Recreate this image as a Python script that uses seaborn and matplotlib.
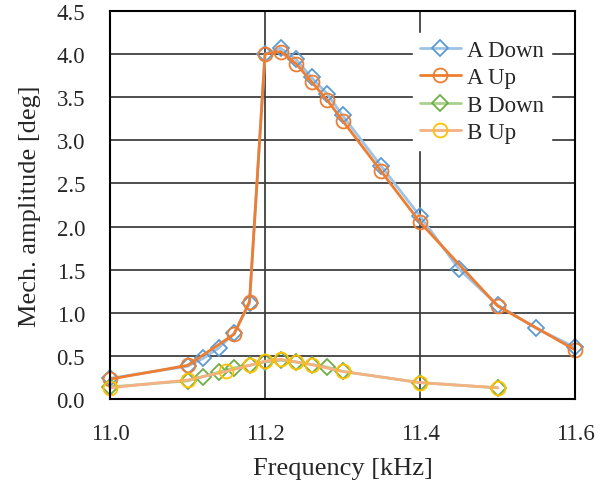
import matplotlib
matplotlib.use("Agg")
import matplotlib.pyplot as plt
import pandas as pd
import seaborn as sns

# frequency [kHz] / amplitude [deg] per series
a_down_freq = [11.0, 11.1, 11.12, 11.14, 11.16, 11.18, 11.2, 11.22, 11.24, 11.26, 11.28, 11.3, 11.35, 11.4, 11.45, 11.5, 11.55, 11.6]
a_down_amp = [0.24, 0.38, 0.47, 0.59, 0.76, 1.11, 4.0, 4.07, 3.94, 3.73, 3.54, 3.29, 2.70, 2.12, 1.51, 1.09, 0.82, 0.60]

a_up_freq = [11.0, 11.1, 11.16, 11.18, 11.2, 11.22, 11.24, 11.26, 11.28, 11.3, 11.35, 11.4, 11.5, 11.6]
a_up_amp = [0.23, 0.39, 0.75, 1.13, 4.0, 4.03, 3.89, 3.68, 3.47, 3.23, 2.64, 2.05, 1.08, 0.57]

b_down_freq = [11.0, 11.1, 11.12, 11.14, 11.16, 11.18, 11.2, 11.22, 11.24, 11.26, 11.28, 11.3, 11.4, 11.5]
b_down_amp = [0.14, 0.21, 0.26, 0.31, 0.36, 0.39, 0.43, 0.45, 0.43, 0.40, 0.37, 0.32, 0.19, 0.13]

b_up_freq = [11.0, 11.1, 11.15, 11.18, 11.2, 11.22, 11.24, 11.26, 11.3, 11.4, 11.5]
b_up_amp = [0.13, 0.22, 0.32, 0.39, 0.44, 0.46, 0.43, 0.40, 0.32, 0.19, 0.13]

series = [
    ("A Down", a_down_freq, a_down_amp, "#9DC3E6", "#5B9BD5", "D"),
    ("A Up", a_up_freq, a_up_amp, "#ED7D31", "#ED7D31", "o"),
    ("B Down", b_down_freq, b_down_amp, "#A9D18E", "#70AD47", "D"),
    ("B Up", b_up_freq, b_up_amp, "#F4B183", "#FFC000", "o"),
]

sns.set_style("white")
plt.rcParams["font.family"] = ["Liberation Serif", "DejaVu Serif"]

fig = plt.figure(figsize=(6.05, 4.85), dpi=100)
ax = fig.add_axes([110 / 605, 85 / 485, 465 / 605, 388 / 485])

for name, freq, amp, line_col, mark_col, marker in series:
    df = pd.DataFrame({"freq": freq, "amp": amp})
    sns.lineplot(
        data=df, x="freq", y="amp", ax=ax, color=line_col, linewidth=2,
        marker=marker, markersize=10 if marker == "o" else 8.5,
        markerfacecolor="none", markeredgecolor=mark_col, markeredgewidth=1.3,
        label=name, clip_on=False,
    )

ax.set_xlim(11.0, 11.6)
ax.set_ylim(0, 4.5)
ax.set_xticks([11.0, 11.2, 11.4, 11.6])
ax.set_yticks([i * 0.5 for i in range(10)])
ax.set_xticklabels(["11.0", "11.2", "11.4", "11.6"])
ax.set_yticklabels([f"{i * 0.5:.1f}" for i in range(10)])
ax.tick_params(length=0, labelsize=16.5)
ax.tick_params(axis="x", pad=17)
ax.tick_params(axis="y", pad=18)
ax.grid(True, color="#404040", linewidth=1.3)
ax.set_axisbelow(True)
for sp in ax.spines.values():
    sp.set_color("black")
    sp.set_linewidth(1.5)

ax.set_xlabel("Frequency [kHz]", fontsize=19, labelpad=10)
ax.set_ylabel("Mech. amplitude [deg]", fontsize=19, labelpad=11)

leg = ax.legend(loc="upper right", bbox_to_anchor=(0.972, 0.972), fontsize=16.5,
                frameon=True, fancybox=False, edgecolor="white", framealpha=1,
                handlelength=1.8, handletextpad=0.25, labelspacing=0.27,
                borderpad=0.3)

fig.savefig("out.png", dpi=100)
